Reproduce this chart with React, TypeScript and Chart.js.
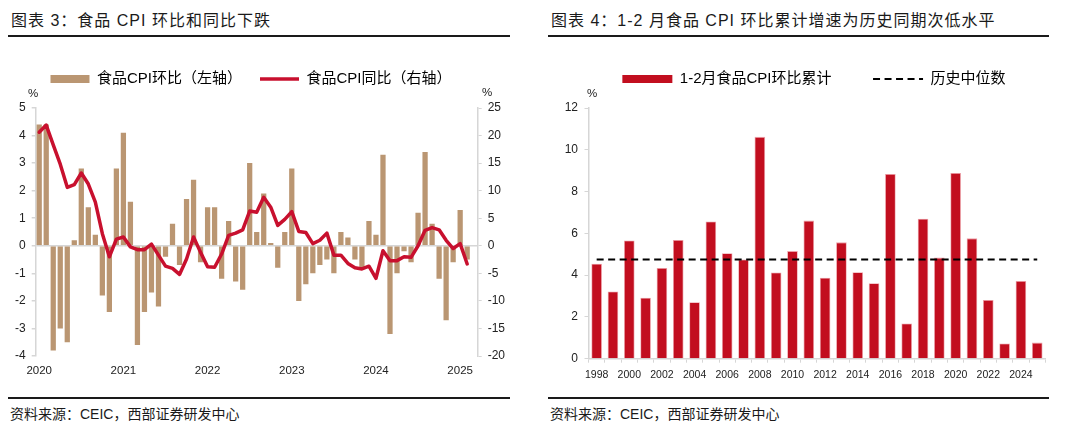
import React, { useEffect, useRef } from 'react';
import { Chart, registerables } from 'chart.js';

Chart.register(...registerables);

const FONT = "'Liberation Sans', 'Noto Sans CJK SC', sans-serif";
Chart.defaults.font.family = FONT;

// ---------- data: left chart (monthly, Jan 2020 .. Mar 2025 slot) ----------
const YEARS_LEFT = ['2020', '2021', '2022', '2023', '2024', '2025'];
const MONTHS: string[] = [];
YEARS_LEFT.forEach((y) => {
  for (let m = 1; m <= 12; m++) {
    if (y === '2025' && m > 3) break;
    MONTHS.push(`${y}-${String(m).padStart(2, '0')}`);
  }
});

// 食品CPI环比 (%), left axis
const FOOD_MOM: (number | null)[] = [
  4.4, 4.4, -3.8, -3.0, -3.5, 0.2, 2.8, 1.4, 0.4, -1.8, -2.4, 2.8,
  4.1, 1.6, -3.6, -2.4, -1.7, -2.2, -0.4, 0.8, -0.7, 1.7, 2.4, -0.6,
  1.4, 1.4, -1.2, 0.9, -1.3, -1.6, 3.0, 0.5, 1.9, 0.1, -0.8, 0.5,
  2.8, -2.0, -1.4, -1.0, -0.7, -0.5, -1.0, 0.5, 0.3, -0.5, -0.8, 0.9,
  0.4, 3.3, -3.2, -1.0, -0.2, -0.6, 1.2, 3.4, 0.8, -1.2, -2.7, -0.6,
  1.3, -0.5, null,
];

// 食品CPI同比 (%), right axis
const FOOD_YOY: (number | null)[] = [
  20.6, 21.9, 18.3, 14.8, 10.6, 11.1, 13.2, 11.2, 7.9, 2.2, -2.0, 1.2,
  1.6, -0.2, -0.7, -0.7, 0.3, -1.7, -3.7, -4.1, -5.2, -2.4, 1.6, -1.2,
  -3.8, -3.9, -1.5, 1.9, 2.3, 2.9, 6.3, 6.1, 8.8, 7.0, 3.7, 4.8,
  6.2, 2.6, 2.4, 0.4, 1.0, 2.3, -1.7, -1.7, -3.2, -4.0, -4.2, -3.7,
  -5.9, -0.9, -2.7, -2.7, -2.0, -2.1, 0.0, 2.8, 3.3, 2.9, 1.0, -0.5,
  0.4, -3.3, null,
];

// ---------- data: right chart (yearly) ----------
const YEARS_RIGHT = [
  '1998', '1999', '2000', '2001', '2002', '2003', '2004', '2005', '2006', '2007',
  '2008', '2009', '2010', '2011', '2012', '2013', '2014', '2015', '2016', '2017',
  '2018', '2019', '2020', '2021', '2022', '2023', '2024', '2025',
];
// 1-2月食品CPI环比累计 (%)
const JAN_FEB_CUM = [
  4.55, 3.22, 5.66, 2.92, 4.34, 5.68, 2.70, 6.57, 5.05, 4.75,
  10.62, 4.13, 5.15, 6.61, 3.88, 5.57, 4.14, 3.61, 8.84, 1.69,
  6.70, 4.84, 8.89, 5.76, 2.81, 0.73, 3.72, 0.77,
];
// 历史中位数 (%)
const HIST_MEDIAN = 4.75;
const MEDIAN_LINE = YEARS_RIGHT.map(() => HIST_MEDIAN);

// ---------- styles ----------
const BROWN = '#BA9672';
const RED = '#C8102E';
const BAR_RED = '#C20E1F';
const AXIS = '#D6D6D6';
const TXT = '#222222';

const legendShift = {
  id: 'legendShift',
  afterLayout(chart: any, _args: any, opts: any) {
    const lg = chart.legend;
    if (!lg) return;
    const dx = (opts && opts.dx) || 0;
    const dy = (opts && opts.dy) || 0;
    lg.left += dx;
    lg.right += dx;
    lg.top += dy;
    lg.bottom += dy;
  },
};

function useChart(ref: React.RefObject<HTMLCanvasElement>, makeConfig: () => any) {
  useEffect(() => {
    if (!ref.current) return;
    const chart = new Chart(ref.current, makeConfig());
    return () => chart.destroy();
  }, []);
}

function leftConfig() {
  return {
    type: 'bar',
    data: {
      labels: MONTHS,
      datasets: [
        {
          type: 'bar',
          label: '食品CPI环比（左轴）',
          data: FOOD_MOM,
          backgroundColor: BROWN,
          yAxisID: 'y',
          order: 2,
          barPercentage: 0.75,
          categoryPercentage: 1,
        },
        {
          type: 'line',
          label: '食品CPI同比（右轴）',
          data: FOOD_YOY,
          borderColor: RED,
          backgroundColor: RED,
          borderWidth: 3.5,
          pointRadius: 0,
          tension: 0,
          borderJoinStyle: 'round',
          borderCapStyle: 'round',
          yAxisID: 'y1',
          order: 1,
        },
      ],
    },
    options: {
      responsive: false,
      animation: false,
      layout: { padding: { top: 25, left: 0, right: 0, bottom: 0 } },
      plugins: {
        tooltip: { enabled: false },
        legendShift: { dx: -8, dy: -11.5 },
        legend: {
          display: true,
          position: 'top',
          labels: {
            usePointStyle: true,
            pointStyleWidth: 39,
            boxHeight: 8,
            padding: 18,
            color: TXT,
            font: { size: 15, family: FONT },
            generateLabels: () => [
              { text: '食品CPI环比（左轴）', fillStyle: BROWN, strokeStyle: BROWN, lineWidth: 0, pointStyle: 'rect', hidden: false, datasetIndex: 0 },
              { text: '食品CPI同比（右轴）', fillStyle: RED, strokeStyle: RED, lineWidth: 3.5, pointStyle: 'line', hidden: false, datasetIndex: 1 },
            ],
          },
        },
      },
      scales: {
        x: {
          offset: true,
          grid: { display: false, drawTicks: false, tickLength: 0 },
          border: { display: false },
          ticks: {
            autoSkip: false,
            maxRotation: 0,
            minRotation: 0,
            padding: 8,
            color: TXT,
            font: { size: 11.5 },
            callback: (_v: any, i: number) => (i % 12 === 0 ? MONTHS[i].slice(0, 4) : ''),
          },
          afterFit: (s: any) => { s.height = 24; },
        },
        y: {
          position: 'left',
          min: -4,
          max: 5,
          ticks: { stepSize: 1, padding: 6, color: TXT, font: { size: 12 } },
          grid: {
            color: (c: any) => (c.tick && c.tick.value === 0 ? AXIS : 'rgba(0,0,0,0)'),
            lineWidth: 1.5,
            drawTicks: true,
            tickLength: 4,
            tickColor: AXIS,
          },
          border: { display: true, color: AXIS, width: 1.5 },
          afterFit: (s: any) => { s.width = 27.7; },
        },
        y1: {
          position: 'right',
          min: -20,
          max: 25,
          ticks: { stepSize: 5, padding: 6, color: TXT, font: { size: 12 } },
          grid: { drawOnChartArea: false, drawTicks: true, tickLength: 4, tickColor: AXIS },
          border: { display: true, color: AXIS, width: 1.5 },
          afterFit: (s: any) => { s.width = 32.3; },
        },
      },
    },
    plugins: [legendShift],
  };
}

function rightConfig() {
  return {
    type: 'bar',
    data: {
      labels: YEARS_RIGHT,
      datasets: [
        {
          type: 'bar',
          label: '1-2月食品CPI环比累计',
          data: JAN_FEB_CUM,
          backgroundColor: BAR_RED,
          borderColor: 'rgba(235,150,158,0.9)',
          borderWidth: 0.8,
          barPercentage: 0.65,
          categoryPercentage: 1,
          order: 2,
        },
        {
          type: 'line',
          label: '历史中位数',
          data: MEDIAN_LINE,
          borderColor: '#000000',
          backgroundColor: '#000000',
          borderWidth: 2,
          borderDash: [7, 4.5],
          pointRadius: 0,
          order: 1,
        },
      ],
    },
    options: {
      responsive: false,
      animation: false,
      layout: { padding: { top: 1.5, left: 0, right: 3.6, bottom: 0 } },
      plugins: {
        tooltip: { enabled: false },
        legendShift: { dx: 17.25, dy: -11.5 },
        legend: {
          display: true,
          position: 'top',
          labels: {
            usePointStyle: true,
            pointStyleWidth: 50,
            boxHeight: 8,
            padding: 41.5,
            color: TXT,
            font: { size: 15, family: FONT },
            generateLabels: () => [
              { text: '1-2月食品CPI环比累计', fillStyle: BAR_RED, strokeStyle: BAR_RED, lineWidth: 0, pointStyle: 'rect', hidden: false, datasetIndex: 0 },
              { text: '历史中位数', fillStyle: '#000', strokeStyle: '#000', lineWidth: 2, lineDash: [7, 4.5], pointStyle: 'line', hidden: false, datasetIndex: 1 },
            ],
          },
        },
      },
      scales: {
        x: {
          offset: true,
          grid: { display: true, offset: true, drawOnChartArea: false, drawTicks: true, tickLength: 4, tickColor: AXIS, color: AXIS },
          border: { display: true, color: AXIS, width: 1.5 },
          ticks: {
            autoSkip: false,
            maxRotation: 0,
            minRotation: 0,
            padding: 6,
            color: TXT,
            font: { size: 10.5 },
            callback: (_v: any, i: number) => (i % 2 === 0 ? YEARS_RIGHT[i] : ''),
          },
          afterFit: (s: any) => { s.height = 21.3; },
        },
        y: {
          position: 'left',
          min: 0,
          max: 12,
          ticks: { stepSize: 2, padding: 6.5, color: TXT, font: { size: 12 } },
          grid: { drawOnChartArea: false, drawTicks: true, tickLength: 4, tickColor: AXIS },
          border: { display: true, color: AXIS, width: 1.5 },
          afterFit: (s: any) => { s.width = 40.5; },
        },
      },
    },
    plugins: [legendShift],
  };
}

const abs = (style: React.CSSProperties): React.CSSProperties => ({ position: 'absolute', ...style });

export default function App() {
  const leftRef = useRef<HTMLCanvasElement>(null);
  const rightRef = useRef<HTMLCanvasElement>(null);
  useChart(leftRef, leftConfig);
  useChart(rightRef, rightConfig);

  const titleStyle: React.CSSProperties = {
    fontFamily: FONT, fontSize: 16, lineHeight: '20px', color: '#1a1a1a', letterSpacing: 1, whiteSpace: 'nowrap',
  };
  const srcStyle: React.CSSProperties = {
    fontFamily: FONT, fontSize: 14, lineHeight: '18px', color: '#1a1a1a', whiteSpace: 'nowrap',
  };
  const pctStyle: React.CSSProperties = {
    fontFamily: FONT, fontSize: 11.5, lineHeight: '14px', color: TXT,
  };

  return (
    <div style={abs({ left: 0, top: 0, width: 1080, height: 434, background: '#fff', overflow: 'hidden' })}>
      <div style={abs({ left: 11, top: 11, ...titleStyle })}>图表 3：食品 CPI 环比和同比下跌</div>
      <div style={abs({ left: 551, top: 11, ...titleStyle })}>图表 4：1-2 月食品 CPI 环比累计增速为历史同期次低水平</div>
      <div style={abs({ left: 8, top: 35, width: 502, height: 2, background: '#1a1a1a' })} />
      <div style={abs({ left: 548, top: 35, width: 501, height: 2, background: '#1a1a1a' })} />

      <canvas ref={leftRef} width={502} height={340} style={abs({ left: 8, top: 40, width: 502, height: 340 })} />
      <canvas ref={rightRef} width={501} height={340} style={abs({ left: 548, top: 40, width: 501, height: 340 })} />

      <div style={abs({ left: 28, top: 86, ...pctStyle })}>%</div>
      <div style={abs({ left: 482, top: 85, ...pctStyle })}>%</div>
      <div style={abs({ left: 587, top: 86, ...pctStyle })}>%</div>

      <div style={abs({ left: 8, top: 397, width: 502, height: 2, background: '#1a1a1a' })} />
      <div style={abs({ left: 548, top: 397, width: 501, height: 2, background: '#1a1a1a' })} />
      <div style={abs({ left: 10, top: 405, ...srcStyle })}>资料来源：CEIC，西部证券研发中心</div>
      <div style={abs({ left: 550, top: 405, ...srcStyle })}>资料来源：CEIC，西部证券研发中心</div>
    </div>
  );
}
